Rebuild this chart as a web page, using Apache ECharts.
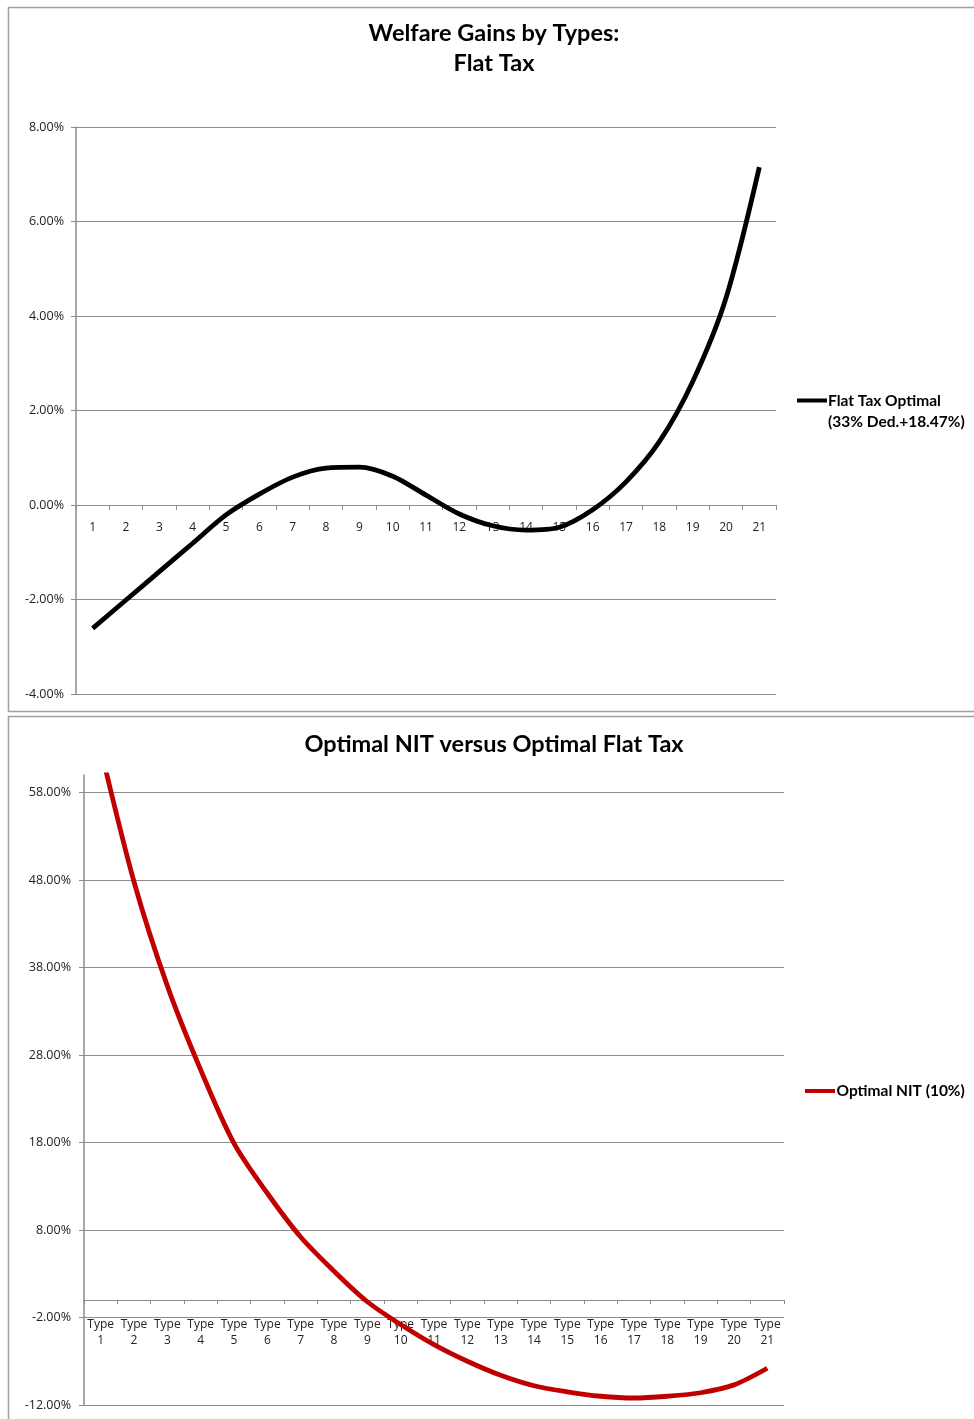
<!DOCTYPE html>
<html>
<head>
<meta charset="utf-8">
<script src="https://cdn.jsdelivr.net/npm/echarts@6/dist/echarts.min.js"></script>
<style>
html,body{margin:0;padding:0;background:#fff;}
#chart{width:974px;height:1419px;}
</style>
</head>
<body>
<div id="chart"></div>
<script>
// ---- Data ----
const flatTaxTypes = ['1','2','3','4','5','6','7','8','9','10','11','12','13','14','15','16','17','18','19','20','21'];
const flatTaxGains = [-2.61, -2.01, -1.41, -0.81, -0.21, 0.23, 0.59, 0.78, 0.80, 0.61, 0.21, -0.19, -0.44, -0.53, -0.47, -0.10, 0.49, 1.34, 2.61, 4.38, 7.15];
const flatTaxName = 'Flat Tax Optimal (33% Ded.+18.47%)';

const nitTypes = ['Type 1','Type 2','Type 3','Type 4','Type 5','Type 6','Type 7','Type 8','Type 9','Type 10','Type 11','Type 12','Type 13','Type 14','Type 15','Type 16','Type 17','Type 18','Type 19','Type 20','Type 21'];
const nitValues = [63.0, 47.8, 35.9, 26.3, 17.9, 12.2, 7.2, 3.3, -0.2, -2.8, -5.1, -7.0, -8.6, -9.8, -10.5, -11.0, -11.2, -11.0, -10.6, -9.7, -7.8];
const nitName = 'Optimal NIT (10%)';

const titleTop = 'Welfare Gains by Types:\nFlat Tax';
const titleBottom = 'Optimal NIT versus Optimal Flat Tax';

// ---- Chart ----
const chart = echarts.init(document.getElementById('chart'), null, {renderer: 'canvas'});
const gridColor = '#8c8c8c';
const labelFont = 'Open Sans';
const pct = v => v.toFixed(2) + '%';
const grids = [
  {left: 76, top: 127, width: 700, height: 567, outerBoundsMode: 'none', containLabel: false},
  {left: 84, top: 775, width: 700, height: 630, outerBoundsMode: 'none', containLabel: false}
];

const option = {
  animation: false,
  backgroundColor: '#fff',
  graphic: [
    {type: 'rect', z: -10, shape: {x: 8.5, y: 7.5, width: 990, height: 704}, style: {fill: 'none', stroke: '#a0a0a0', lineWidth: 1.5}},
    {type: 'rect', z: -10, shape: {x: 8.5, y: 716.5, width: 990, height: 720}, style: {fill: 'none', stroke: '#a0a0a0', lineWidth: 1.5}}
  ],
  title: [
    {text: titleTop, left: 494, top: 18, textAlign: 'center', padding: 0,
     textStyle: {fontFamily: 'Lato', fontWeight: 'bold', fontSize: 23.5, lineHeight: 30, color: '#000'}},
    {text: titleBottom, left: 494, top: 729, textAlign: 'center', padding: 0,
     textStyle: {fontFamily: 'Lato', fontWeight: 'bold', fontSize: 23.5, lineHeight: 30, color: '#000'}}
  ],
  legend: [
    {data: [flatTaxName], left: 797, top: 390, padding: 0, orient: 'vertical',
     itemWidth: 30, itemHeight: 25,
     icon: 'path://M0,0h30v4h-30z M0,24.9h0.1v0.1h-0.1z',
     formatter: () => 'Flat Tax Optimal\n(33% Ded.+18.47%)',
     textStyle: {fontFamily: 'Lato', fontWeight: 'bold', fontSize: 15.5, lineHeight: 21, color: '#000', padding: [0,0,0,-4]}},
    {data: [nitName], left: 805, top: 1083, padding: 0,
     itemWidth: 31, itemHeight: 4,
     icon: 'path://M0,0h30v4h-30z',
     textStyle: {fontFamily: 'Lato', fontWeight: 'bold', fontSize: 15.5, color: '#000', padding: [0,0,0,-4]}}
  ],
  grid: grids,
  xAxis: [
    {type: 'category', gridIndex: 0, data: flatTaxTypes, boundaryGap: true,
     axisLine: {onZero: false, lineStyle: {color: gridColor, width: 1}},
     axisTick: {show: true, length: 5, inside: false, alignWithLabel: false, lineStyle: {color: gridColor}},
     axisLabel: {margin: 17, fontFamily: labelFont, fontSize: 12, color: '#222', interval: 0}},
    {type: 'category', gridIndex: 1, data: nitTypes, boundaryGap: true,
     axisLine: {onZero: false, lineStyle: {color: gridColor, width: 1}},
     axisTick: {show: true, length: 4, inside: false, alignWithLabel: false, lineStyle: {color: gridColor}},
     axisLabel: {margin: 17, fontFamily: labelFont, fontSize: 12, lineHeight: 16, color: '#222', interval: 0,
       formatter: v => v.replace(' ', '\n')}}
  ],
  yAxis: [
    {type: 'value', gridIndex: 0, min: -4, max: 8, interval: 2,
     axisLine: {show: true, lineStyle: {color: gridColor, width: 1.5}},
     axisTick: {show: true, length: 5, lineStyle: {color: gridColor}},
     splitLine: {show: true, lineStyle: {color: gridColor, width: 1}},
     axisLabel: {margin: 12, fontFamily: labelFont, fontSize: 12.5, color: '#222', formatter: pct}},
    {type: 'value', gridIndex: 1, min: -12, max: 60, interval: 10,
     axisLine: {show: true, lineStyle: {color: gridColor, width: 1.5}},
     axisTick: {show: true, length: 5, lineStyle: {color: gridColor}},
     splitLine: {show: true, lineStyle: {color: [gridColor, gridColor, gridColor, gridColor, gridColor, gridColor, gridColor, gridColor, 'rgba(0,0,0,0)'], width: 1}},
     axisLabel: {margin: 13, fontFamily: labelFont, fontSize: 12.5, color: '#222', showMaxLabel: false, formatter: pct}}
  ],
  series: [
    {name: flatTaxName, type: 'line', xAxisIndex: 0, yAxisIndex: 0, data: flatTaxGains,
     smooth: 0.3, showSymbol: false, symbol: 'none',
     lineStyle: {color: '#000', width: 4.8}, itemStyle: {color: '#000'}},
    {name: nitName, type: 'line', xAxisIndex: 1, yAxisIndex: 1, data: nitValues,
     smooth: 0.3, showSymbol: false, symbol: 'none', clip: true,
     lineStyle: {color: '#c00000', width: 4.8}, itemStyle: {color: '#c00000'}}
  ]
};
chart.setOption(option);

// Place each category axis (line, ticks and labels) on the value 0 of its y axis.
const offsets = [0, 1].map(i => {
  const y0 = chart.convertToPixel({yAxisIndex: i}, 0);
  const bottom = grids[i].top + grids[i].height;
  return -(bottom - y0);
});
chart.setOption({xAxis: [{offset: offsets[0]}, {offset: offsets[1]}]});
</script>
</body>
</html>
